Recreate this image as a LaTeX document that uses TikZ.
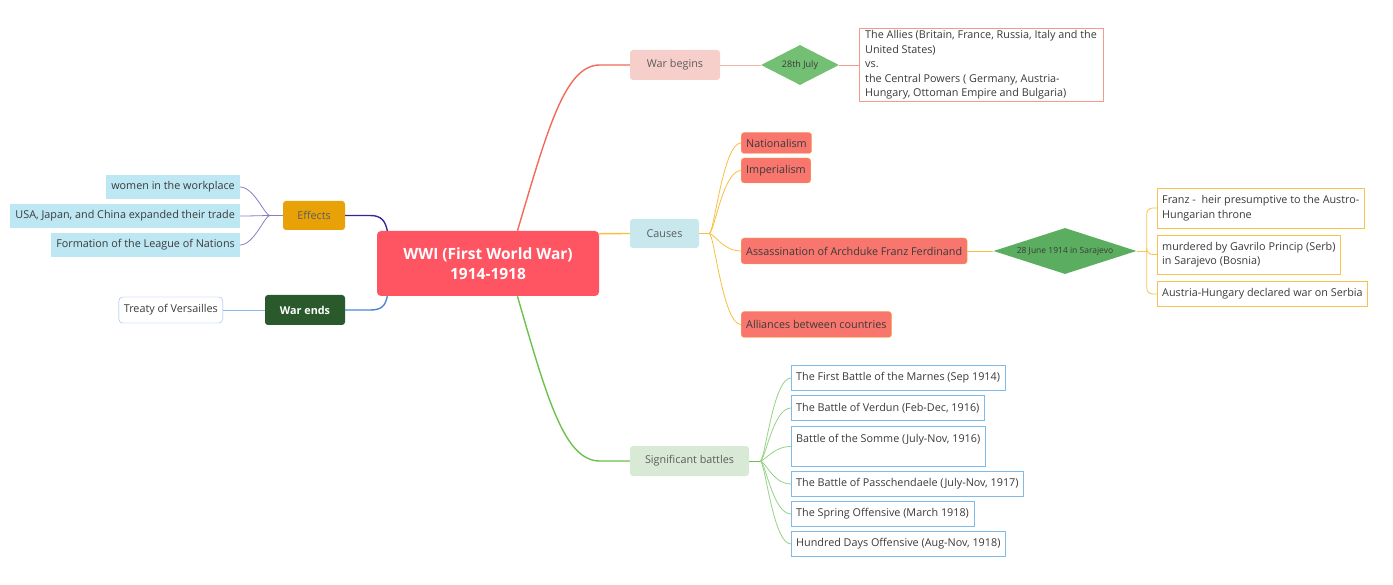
\documentclass[tikz,border=0pt]{standalone}
\usepackage{fontspec}
\setmainfont{Open Sans}
\usetikzlibrary{shapes.geometric}

\definecolor{rootred}{HTML}{FF5461}
\definecolor{textdark}{HTML}{3A3A3A}
\definecolor{topicgray}{HTML}{5C5C5C}
\definecolor{beginfill}{HTML}{F6CFCA}
\definecolor{redlink}{HTML}{F26A5A}
\definecolor{pinklink}{HTML}{F5B5AC}
\definecolor{julyfill}{HTML}{73BF73}
\definecolor{alliesline}{HTML}{F79A8E}
\definecolor{causesfill}{HTML}{C9E8EE}
\definecolor{orangelink}{HTML}{F9BE3E}
\definecolor{causefill}{HTML}{F8766E}
\definecolor{causeline}{HTML}{F9B440}
\definecolor{sarajevofill}{HTML}{5BAE60}
\definecolor{franzline}{HTML}{F8C24F}
\definecolor{effectsfill}{HTML}{E8A208}
\definecolor{navylink}{HTML}{35279A}
\definecolor{purplelink}{HTML}{8B7CC8}
\definecolor{effectfill}{HTML}{BDE7F3}
\definecolor{endsfill}{HTML}{2A5A2C}
\definecolor{bluelink}{HTML}{4A86DA}
\definecolor{treatyline}{HTML}{8FB8EA}
\definecolor{battlesfill}{HTML}{D8EAD6}
\definecolor{greenlink}{HTML}{6CC24A}
\definecolor{twiggreen}{HTML}{94D385}
\definecolor{battleline}{HTML}{7FBBE6}

\tikzset{
  root/.style={fill=rootred, rounded corners=4pt, text=white, align=center,
    font=\fontsize{15.5}{20}\selectfont\bfseries, minimum width=222, minimum height=65},
  topic/.style={rounded corners=3pt, text=topicgray, inner xsep=0,
    font=\fontsize{10.8}{13}\selectfont, minimum height=30},
  cause/.style={fill=causefill, draw=causeline, rounded corners=3pt, text=textdark,
    anchor=west, inner xsep=5, font=\fontsize{10.8}{13}\selectfont},
  fact/.style={fill=white, text=textdark, anchor=west, align=left, inner xsep=5,
    inner ysep=2, minimum height=25, font=\fontsize{10.8}{14.5}\selectfont},
  effect/.style={fill=effectfill, text=textdark, anchor=east, inner xsep=5,
    minimum height=24, font=\fontsize{10.8}{13}\selectfont},
  event/.style={diamond, inner sep=0, text=textdark},
  branch/.style={line width=1.4pt},
  twig/.style={line width=0.8pt}
}

\begin{document}
\begin{tikzpicture}[x=1pt,y=-1pt]

\def\mapw{1393}
\def\maph{585}
\def\bx{791}

\path [use as bounding box] (0,0) rectangle (\mapw,\maph);

% ROOT
\node [root] (wwi) at (488,263.5) {WWI (First World War)\\1914-1918};

% WAR BEGINS
\node [topic, fill=beginfill, minimum width=90] (begins) at (675,65) {War begins};
\node [event, fill=julyfill, minimum width=78, minimum height=40, aspect=2,
  font=\fontsize{9}{10}\selectfont] (july) at (800,65) {28th July};
\node [fact, draw=alliesline, inner xsep=6] (allies) at (859,65)
  {The Allies (Britain, France, Russia, Italy and the\\United States)\\vs.\\the Central Powers ( Germany, Austria-\\Hungary, Ottoman Empire and Bulgaria)};

% CAUSES
\node [topic, fill=causesfill, minimum width=69, minimum height=29] (causes) at (664.5,233.5) {Causes};
\node [cause, minimum height=21] (nat) at (741,143) {Nationalism};
\node [cause, minimum height=25] (imp) at (741,170.5) {Imperialism};
\node [cause, minimum height=26] (ass) at (741,251) {Assassination of Archduke Franz Ferdinand};
\node [cause, minimum height=26] (all) at (741,324.5) {Alliances between countries};
\node [event, fill=sarajevofill, minimum width=143, minimum height=46, aspect=3,
  font=\fontsize{8.5}{10}\selectfont] (sarajevo) at (1065,251) {28 June 1914 in Sarajevo};
\node [fact, draw=franzline, minimum height=40] (franz) at (1157,208)
  {Franz -~ heir presumptive to the Austro-\\Hungarian throne};
\node [fact, draw=franzline, minimum height=39] (murder) at (1157,254.5)
  {murdered by Gavrilo Princip (Serb)\\in Sarajevo (Bosnia)};
\node [fact, draw=franzline] (serbia) at (1157,294) {Austria-Hungary declared war on Serbia};

% EFFECTS
\node [topic, fill=effectsfill, minimum width=62, minimum height=29] (effects) at (314,215.5) {Effects};
\node [effect] (women) at (240,187) {women in the workplace};
\node [effect] (trade) at (240,216) {USA, Japan, and China expanded their trade};
\node [effect] (league) at (240,245) {Formation of the League of Nations};

% WAR ENDS
\node [topic, fill=endsfill, text=white, minimum width=80,
  font=\fontsize{10.8}{13}\selectfont\bfseries] (ends) at (305,310) {War ends};
\node [fact, draw=treatyline, fill=white, rounded corners=4pt, anchor=east, minimum height=26]
  (treaty) at (223,310) {Treaty of Versailles};

% BATTLES
\node [topic, fill=battlesfill, minimum width=119] (battles) at (689.5,461) {Significant battles};
\node [fact, draw=battleline] (marne) at (\bx,378) {The First Battle of the Marnes (Sep 1914)};
\node [fact, draw=battleline] (verdun) at (\bx,408) {The Battle of Verdun (Feb-Dec, 1916)};
\node [fact, draw=battleline, minimum height=40, text depth=16] (somme) at (\bx,446.5)
  {Battle of the Somme (July-Nov, 1916)};
\node [fact, draw=battleline] (passch) at (\bx,484) {The Battle of Passchendaele (July-Nov, 1917)};
\node [fact, draw=battleline] (spring) at (\bx,514) {The Spring Offensive (March 1918)};
\node [fact, draw=battleline] (hundred) at (\bx,544) {Hundred Days Offensive (Aug-Nov, 1918)};

% BRANCHES
\draw [branch, redlink] (wwi.48) .. controls +(30,-101) and +(-35,0) ..
  ([xshift=-30]begins.west) -- (begins.west);
\draw [branch, orangelink] (wwi.15) -- (causes.west);
\draw [branch, greenlink] (wwi.-48) .. controls +(30,104) and +(-35,0) ..
  ([xshift=-30]battles.west) -- (battles.west);
\draw [branch, navylink] (effects.east) -- ++(25,0) .. controls +(12,0) and +(-2,-9) .. (wwi.162);
\draw [branch, bluelink] (ends.east) -- ++(25,0) .. controls +(12,0) and +(-2,9) .. (wwi.198);

% TWIGS
\draw [twig, pinklink] (begins.east) -- (july.west);
\draw [twig, alliesline] (july.east) -- (allies.west);

\coordinate (cbr) at ([xshift=10]causes.east);
\draw [twig, orangelink] (causes.east) -- (cbr);
\foreach \n in {nat, imp, ass, all}
  \draw [twig, orangelink] (cbr) .. controls +(5,0) and +(-18,0) .. (\n.west);

\draw [twig, orangelink] (ass.east) -- (sarajevo.west);
\coordinate (fbr) at ([xshift=10]sarajevo.east);
\draw [twig, franzline] (sarajevo.east) -- (fbr);
\foreach \n in {franz, murder, serbia}
  \draw [twig, franzline, rounded corners=6pt] (fbr) |- (\n.west);

\coordinate (ebr) at ([xshift=-13]effects.west);
\draw [twig, purplelink] (effects.west) -- (ebr);
\foreach \n in {women, trade, league}
  \draw [twig, purplelink] (ebr) .. controls +(-5,0) and +(14,0) .. (\n.east);

\draw [twig, treatyline] (ends.west) -- (treaty.east);

\coordinate (bbr) at ([xshift=11]battles.east);
\draw [twig, greenlink] (battles.east) -- (bbr);
\foreach \n in {marne, verdun, somme, passch, spring, hundred}
  \draw [twig, twiggreen] (bbr) .. controls +(5,0) and +(-18,0) .. (\n.west);

\end{tikzpicture}
\end{document}
